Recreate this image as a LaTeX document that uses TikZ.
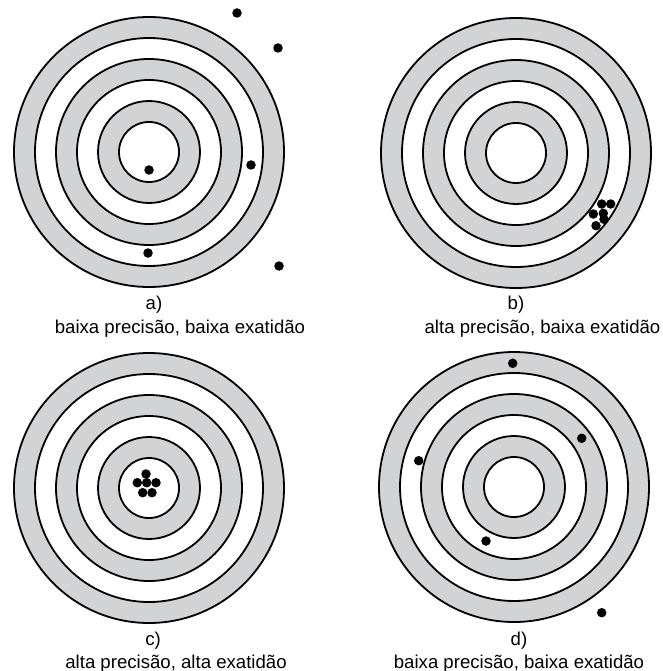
\documentclass[tikz,border=0pt]{standalone}
\usepackage{fontspec}
\setmainfont{Liberation Sans}
\usepackage{tikz}
\usetikzlibrary{positioning,calc}
\definecolor{RingGray}{RGB}{210,211,213}
\tikzset{
	ring/.style={draw=black,line width=1.8pt},
	hit/.style={circle,fill=black,inner sep=0pt,minimum size=9.5pt},
	tag/.style={anchor=base,inner sep=0pt,font=\fontsize{18.6}{22}\selectfont},
}
\begin{document}
\begin{tikzpicture}[x=1pt,y=1pt]
	\useasboundingbox (0,0) rectangle (662,-671);
	\coordinate (ta) at (149,-152);
	\coordinate (tb) at (516,-153);
	\coordinate (tc) at (149,-488);
	\coordinate (td) at (514,-487);
	\foreach \t in {ta,tb,tc,td}
	\foreach \r/\c in {135/RingGray,114/white,93/RingGray,72/white,51/RingGray,30/white}
	\draw[ring,fill=\c] (\t) circle (\r);
	\foreach \x/\y [count=\i] in {237/13,278/48,251/165,149/170,148/253,279/266}
	\node[hit] (a\i) at (\x,-\y) {};
	\foreach \x/\y [count=\i] in {601.7/204,610.7/204,593.3/214,603.3/213.3,604/219.3,596/225.7}
	\node[hit] (b\i) at (\x,-\y) {};
	\foreach \x/\y [count=\i] in {146/474,137.3/482.7,146.7/482.7,156/482.7,142.7/492.7,152/492.7}
	\node[hit] (c\i) at (\x,-\y) {};
	\foreach \x/\y [count=\i] in {512.7/363.3,581.7/438.3,418.7/460.7,486/541,601.7/612.7}
	\node[hit] (d\i) at (\x,-\y) {};
	\node[tag] (la) at (154,-309) {a)};
	\node[tag] (ca) at (180,-333) {baixa precisão, baixa exatidão};
	\node[tag] (lb) at (516,-309) {b)};
	\node[tag] (cb) at (542.5,-333) {alta precisão, baixa exatidão};
	\node[tag] (lc) at (153,-645) {c)};
	\node[tag] (cc) at (176,-668) {alta precisão, alta exatidão};
	\node[tag] (ld) at (519,-645) {d)};
	\node[tag] (cd) at (519,-668) {baixa precisão, baixa exatidão};
\end{tikzpicture}
\end{document}
